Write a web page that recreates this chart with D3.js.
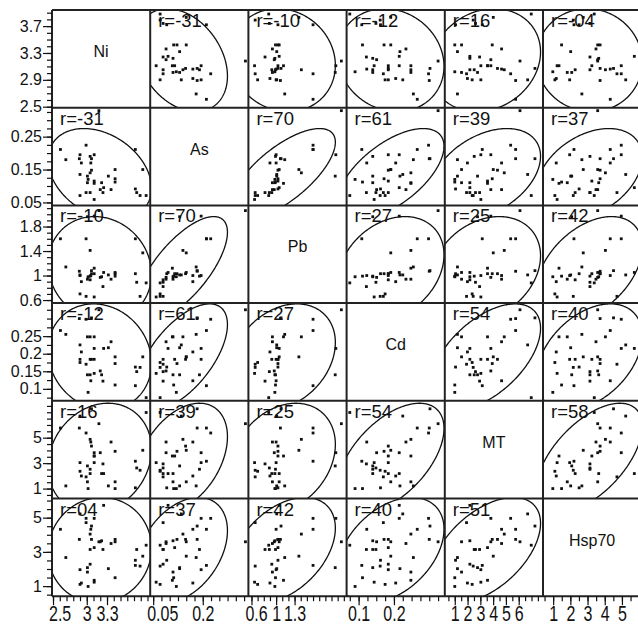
<!DOCTYPE html>
<html><head><meta charset="utf-8">
<script src="https://cdn.jsdelivr.net/npm/d3@7/dist/d3.min.js"></script>
<style>
body{margin:0;background:#fff}
svg text{font-family:Arial,"Liberation Sans",sans-serif;fill:#111}
</style></head>
<body><svg id="chart" width="638" height="628"></svg>
<script>
// ---- data (38 observations) ----
const variables = ["Ni","As","Pb","Cd","MT","Hsp70"];
const niValues  = [3.18,2.99,2.61,3.72,3.11,2.90,3.05,2.89,3.07,2.69,2.92,3.06,3.42,3.83,3.07,3.05,2.90,3.01,3.32,3.42,3.02,3.11,3.42,3.01,3.22,3.11,3.25,3.72,3.20,3.36,3.24,2.99,3.05,3.74,2.90,3.79,3.88,3.11];
const asValues  = [0.329,0.224,0.211,0.211,0.195,0.195,0.190,0.183,0.183,0.180,0.170,0.170,0.150,0.150,0.148,0.140,0.135,0.130,0.130,0.122,0.120,0.115,0.112,0.110,0.110,0.108,0.095,0.091,0.089,0.089,0.080,0.080,0.080,0.080,0.071,0.071,0.071,0.059];
const pbValues  = [2.06,1.60,1.60,1.60,1.97,1.00,0.99,1.07,1.08,1.14,0.90,1.00,1.05,1.37,1.03,1.41,1.01,1.96,1.01,1.03,0.98,1.03,0.99,0.94,0.98,1.12,1.05,1.03,0.97,0.94,0.82,0.66,0.93,0.89,0.70,0.66,0.88,0.65];
const cdValues  = [0.325,0.298,0.266,0.109,0.215,0.184,0.140,0.300,0.302,0.255,0.205,0.123,0.191,0.191,0.184,0.248,0.225,0.140,0.217,0.172,0.090,0.184,0.111,0.248,0.140,0.248,0.215,0.162,0.151,0.234,0.122,0.170,0.184,0.149,0.175,0.161,0.075,0.144];
const mtValues  = [6.10,5.37,5.76,3.15,3.82,3.04,2.52,5.76,7.27,1.21,1.99,4.66,1.53,4.01,4.34,4.87,6.70,2.78,1.21,3.93,1.00,3.56,1.00,1.53,2.18,3.56,2.18,1.06,3.82,4.66,2.94,1.92,2.18,2.62,2.36,2.44,6.98,3.04];
const hspValues = [3.59,4.96,4.32,2.21,4.96,1.96,3.14,3.73,4.51,2.67,1.18,4.32,3.59,2.75,3.73,4.04,5.22,2.08,2.02,3.73,0.98,3.25,1.49,1.82,3.65,1.34,5.72,2.51,3.59,3.49,3.14,4.71,2.28,3.14,1.10,2.17,3.39,1.23];

// correlation labels shown in each cell (row = y variable, column = x variable), x100
const rRows = [
  [null,-31,-10,-12,16,-4],
  [-31,null,70,61,39,37],
  [-10,70,null,27,25,42],
  [-12,61,27,null,54,40],
  [16,39,25,54,null,58],
  [4,37,42,40,51,null]
];

// axis ranges and ticks
const axisRanges = [[2.485,3.94],[0.041,0.338],[0.55,2.145],[0.066,0.344],[0.22,7.9],[0.41,6.12]];
const yTickLabels = [[2.5,2.9,3.3,3.7],[0.05,0.15,0.25],[0.6,1,1.4,1.8],[0.1,0.15,0.2,0.25],[1,3,5],[1,3,5]];
const xTickLabels = [[2.5,3,3.3],[0.05,0.2],[0.6,1,1.3],[0.1,0.2],[1,2,3,4,5,6],[1,2,3,4,5]];
const minorSteps  = [0.1,0.025,0.1,0.025,0.5,0.5];

const columns = [niValues,asValues,pbValues,cdValues,mtValues,hspValues];

(function(){
const L = 52, T = 10, cellW = 98.2, cellH = 97.7, n = 6;
const svg = d3.select("#chart");

const xs = axisRanges.map((d,i)=>d3.scaleLinear().domain(d).range([L+i*cellW, L+(i+1)*cellW]));
const ys = axisRanges.map((d,i)=>d3.scaleLinear().domain(d).range([T+(i+1)*cellH, T+i*cellH]));

const defs = svg.append("defs");
const chi = Math.sqrt(5.991); // 95% density ellipse

for (let r=0;r<n;r++){
  for (let c=0;c<n;c++){
    const x0 = L+c*cellW, y0 = T+r*cellH;
    const g = svg.append("g");
    if (r===c){
      g.append("text").attr("x",x0+cellW/2).attr("y",y0+47)
        .attr("text-anchor","middle").style("font-size","16px").text(variables[r]);
      continue;
    }
    const id = `clip-${r}-${c}`;
    defs.append("clipPath").attr("id",id).append("rect")
      .attr("x",x0).attr("y",y0).attr("width",cellW).attr("height",cellH);
    const inner = g.append("g").attr("clip-path",`url(#${id})`);
    const xv = columns[c], yv = columns[r];
    const pts = xv.map((v,i)=>[v,yv[i]]);
    const mx = d3.mean(xv), my = d3.mean(yv), sx = d3.deviation(xv), sy = d3.deviation(yv);
    const rr = rRows[r][c]/100, q = Math.sqrt(1-rr*rr);
    const ang = d3.range(0, 2*Math.PI+0.02, 0.02);
    const ell = ang.map(t=>[mx+chi*sx*Math.cos(t), my+chi*sy*(rr*Math.cos(t)+q*Math.sin(t))]);
    inner.append("path")
      .attr("d", d3.line().x(d=>xs[c](d[0])).y(d=>ys[r](d[1]))(ell))
      .attr("fill","none").attr("stroke","#111").attr("stroke-width",1.3);
    inner.selectAll("rect.pt").data(pts).join("rect").attr("class","pt")
      .attr("x",d=>xs[c](d[0])-1.4).attr("y",d=>ys[r](d[1])-1.4)
      .attr("width",2.8).attr("height",2.8).attr("fill","#111");
    const lab = rRows[r][c];
    const s = lab<0 ? "-"+String(Math.abs(lab)).padStart(2,"0") : String(lab).padStart(2,"0");
    inner.append("text").attr("x",x0+8).attr("y",y0+17).style("font-size","18.5px").text("r="+s);
  }
}

// grid lines
for (let i=0;i<=n;i++){
  svg.append("line").attr("x1",L+i*cellW).attr("x2",L+i*cellW).attr("y1",T).attr("y2",T+n*cellH)
    .attr("stroke","#222").attr("stroke-width",2);
  svg.append("line").attr("x1",L).attr("x2",L+n*cellW).attr("y1",T+i*cellH).attr("y2",T+i*cellH)
    .attr("stroke","#222").attr("stroke-width",2);
}

// y axes (left)
for (let r=0;r<n;r++){
  const dom = axisRanges[r];
  const minor = d3.range(Math.ceil(dom[0]/minorSteps[r]-1e-9)*minorSteps[r], dom[1], minorSteps[r]);
  const ga = svg.append("g").attr("transform",`translate(${L},0)`);
  ga.call(d3.axisLeft(ys[r]).tickValues(minor).tickSize(5).tickFormat(""));
  ga.call(g=>g.select(".domain").remove());
  const gb = svg.append("g").attr("transform",`translate(${L},0)`);
  gb.call(d3.axisLeft(ys[r]).tickValues(yTickLabels[r]).tickSize(9).tickPadding(1).tickFormat(d3.format("~g")));
  gb.call(g=>g.select(".domain").remove());
  gb.selectAll("text").style("font-size","16px").attr("fill","#111");
}

// x axes (bottom)
const B = T+n*cellH;
for (let c=0;c<n;c++){
  const dom = axisRanges[c];
  const minor = d3.range(Math.ceil(dom[0]/minorSteps[c]-1e-9)*minorSteps[c], dom[1], minorSteps[c]);
  const ga = svg.append("g").attr("transform",`translate(0,${B})`);
  ga.call(d3.axisBottom(xs[c]).tickValues(minor).tickSize(5).tickFormat(""));
  ga.call(g=>g.select(".domain").remove());
  const gb = svg.append("g").attr("transform",`translate(0,${B})`);
  gb.call(d3.axisBottom(xs[c]).tickValues(xTickLabels[c]).tickSize(9).tickFormat(d3.format("~g")));
  gb.call(g=>g.select(".domain").remove());
  const x0 = L+c*cellW;
  gb.selectAll(".tick text").attr("y",0).attr("dy",0)
    .style("font-size","16px").attr("fill","#111")
    .each(function(){
      const w = this.getComputedTextLength();
      const tx = +d3.select(this.parentNode).attr("transform").match(/translate\(([-\d.]+)/)[1];
      let shift = 0;
      if (tx - w/2 < x0 - 3) shift = (x0 - 3) - (tx - w/2);
      d3.select(this).attr("transform",`translate(${shift},25) scale(1,1.35)`);
    });
}
svg.selectAll(".tick line").attr("stroke","#111").attr("stroke-width",1.2);
})();
</script></body></html>
